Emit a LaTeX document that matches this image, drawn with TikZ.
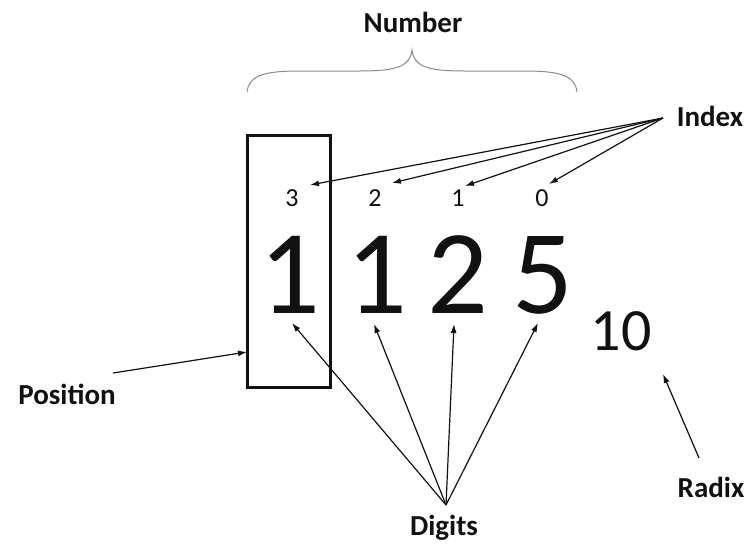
\documentclass[tikz,border=0pt]{standalone}
\usepackage{fontspec}
\setmainfont{Carlito}
\usetikzlibrary{arrows.meta, positioning, calc}
\definecolor{cink}{HTML}{111111}
\definecolor{cgrey}{HTML}{8A8A8A}
\tikzset{
  every picture/.style={line width=1.2pt},
  label/.style={font=\fontsize{29}{31}\selectfont\bfseries, text=cink, inner sep=0pt},
  idx/.style={font=\fontsize{26}{28}\selectfont, text=cink, inner sep=0pt},
  digit/.style={font=\fontsize{120}{120}\selectfont, text=cink, inner sep=0pt, anchor=base},
  arrow/.style={-{Latex[length=9pt, width=6pt]}, draw=cink, line width=1.2pt},
  brace/.style={draw=cgrey, line width=1pt},
}
\begin{document}
\begin{tikzpicture}[x=1pt, y=-1pt]
  \useasboundingbox (0,0) rectangle (751,546);
  % labels
  \node[label] (number) at (413,22) {Number};
  \node[label] (index) at (710,116) {Index};
  \node[label] (position) at (67,394) {Position};
  \node[label] (digits) at (444,528) {Digits};
  \node[label] (radix) at (711,487) {Radix};
  % brace over the number
  \draw[brace] (247,92) .. controls (249,76) and (262,71) .. (300,71) -- (360,71)
    .. controls (398,71) and (410,66) .. (412,50)
    .. controls (414,66) and (426,71) .. (464,71) -- (524,71)
    .. controls (562,71) and (575,76) .. (577,92);
  % position box
  \draw[line width=3pt, draw=cink] (247,135) rectangle (330,387);
  \coordinate (boxedge) at (247,352);
  % index numbers
  \foreach \n/\x in {3/292, 2/375, 1/458, 0/542}
    \node[idx] (i\n) at (\x,198) {\n};
  % the number and its radix
  \foreach \n/\d/\x in {a/1/290, b/1/377, c/2/458, d/5/543}
    \node[digit] (d\n) at (\x,313) {\d};
  \node[font=\fontsize{60}{60}\selectfont, text=cink, inner sep=0pt] (base) at (621,331) {10};
  % arrow tips
  \coordinate (t3) at (310,185);
  \coordinate (t2) at (392,183);
  \coordinate (t1) at (465,186);
  \coordinate (t0) at (549,184);
  \coordinate (da) at (292,323);
  \coordinate (db) at (374,324);
  \coordinate (dc) at (454,324);
  \coordinate (dd) at (538,323);
  \coordinate (ifrom) at (663,118);
  \coordinate (dfrom) at (446,505);
  \coordinate (pfrom) at (113,373);
  \coordinate (rfrom) at (699,458);
  \coordinate (rtip) at (663,374);
  % connectors
  \foreach \t in {t3, t2, t1, t0} \draw[arrow] (ifrom) -- (\t);
  \foreach \t in {da, db, dc, dd} \draw[arrow] (dfrom) -- (\t);
  \draw[arrow] (pfrom) -- (boxedge);
  \draw[arrow] (rfrom) -- (rtip);
\end{tikzpicture}
\end{document}
